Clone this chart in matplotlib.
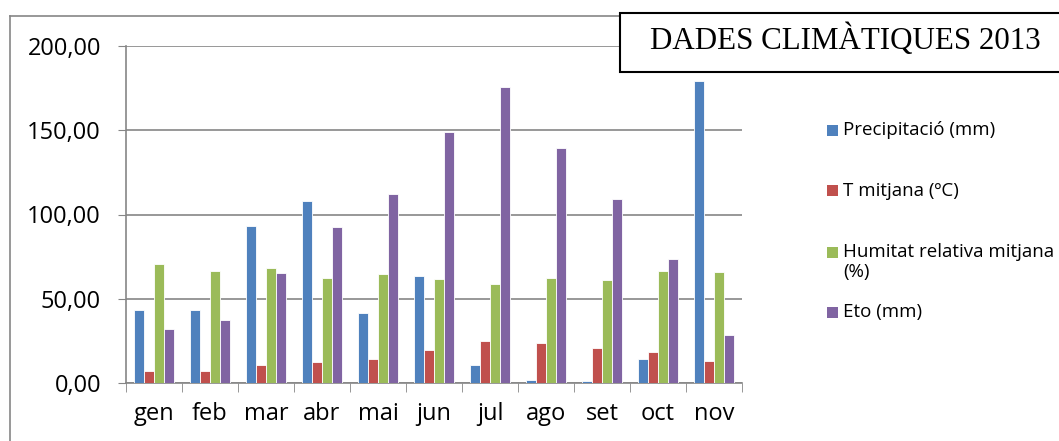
import numpy as np
import matplotlib.pyplot as plt
from matplotlib.patches import Rectangle
from matplotlib.lines import Line2D

months = ['gen', 'feb', 'mar', 'abr', 'mai', 'jun', 'jul', 'ago', 'set', 'oct', 'nov']
precip = [43.4, 43.5, 93.0, 108.2, 41.4, 63.5, 10.7, 1.8, 1.4, 14.2, 179.0]
temp = [7.1, 6.9, 10.7, 12.5, 14.2, 19.6, 24.9, 23.5, 21.0, 18.4, 13.0]
humid = [70.4, 66.7, 68.1, 62.3, 64.7, 61.5, 58.8, 62.5, 61.1, 66.3, 65.9]
eto = [31.9, 37.2, 65.3, 92.8, 112.2, 149.0, 175.7, 139.5, 109.4, 73.6, 28.3]

labels = ['Precipitació (mm)', 'T mitjana (ºC)', 'Humitat relativa mitjana\n(%)', 'Eto (mm)']
colors = ['#4F81BD', '#C0504D', '#9BBB59', '#8064A2']

W, H = 1059, 441
fig = plt.figure(figsize=(W / 100, H / 100), dpi=100)

# outer chart border (only left and top visible)
fig.add_artist(Line2D([10 / W, 10 / W], [0, 1 - 16 / H], color='#868686', lw=1.2))
fig.add_artist(Line2D([10 / W, 1], [1 - 16 / H, 1 - 16 / H], color='#868686', lw=1.2))

ax = fig.add_axes([126 / W, 1 - 383 / H, (742 - 126) / W, (383 - 46) / H])

x = np.arange(len(months))
w = 1 / 5.5
series = [precip, temp, humid, eto]
for i, (vals, c) in enumerate(zip(series, colors)):
    ax.bar(x + (i - 1.5) * w, vals, width=w, color=c, edgecolor='white', linewidth=0.6, zorder=3)

ax.set_xlim(-0.5, len(months) - 0.5)
ax.set_ylim(0, 200)
ax.set_yticks([0, 50, 100, 150, 200])
ax.set_yticklabels(['0,00', '50,00', '100,00', '150,00', '200,00'], fontsize=17, family='Open Sans')
ax.set_xticks(x)
ax.set_xticklabels(months, fontsize=17, family='Open Sans')
ax.set_xticks(np.arange(-0.5, len(months)), minor=True)
ax.tick_params(axis='x', which='major', length=0, pad=14)
ax.tick_params(axis='x', which='minor', length=6.5, color='#868686')
ax.tick_params(axis='y', length=6, color='#868686', pad=12)
ax.grid(axis='y', color='#868686', linewidth=1.2, zorder=0)
for s in ['top', 'right']:
    ax.spines[s].set_visible(False)
for s in ['left', 'bottom']:
    ax.spines[s].set_color('#868686')
    ax.spines[s].set_linewidth(1.2)

# title box
fig.add_artist(Rectangle((620 / W, 1 - 72 / H), 1, 59 / H, transform=fig.transFigure,
                         facecolor='white', edgecolor='black', lw=1.5, zorder=10))
fig.text(845 / W, 1 - 40 / H, 'DADES CLIMÀTIQUES 2013', fontsize=22.3, family='Liberation Serif',
         ha='center', va='center', zorder=11)

# legend
leg_y = [130, 191, 252, 312]
for lab, c, yy in zip(labels, colors, leg_y):
    fig.add_artist(Rectangle((827 / W, 1 - (yy + 5.5) / H), 11 / W, 11 / H,
                             transform=fig.transFigure, facecolor=c, edgecolor='none'))
    fig.text(843 / W, 1 - (yy - 9) / H, lab, fontsize=13.5, family='Open Sans',
             ha='left', va='top', linespacing=1.15)

fig.savefig('out.png', dpi=100)
